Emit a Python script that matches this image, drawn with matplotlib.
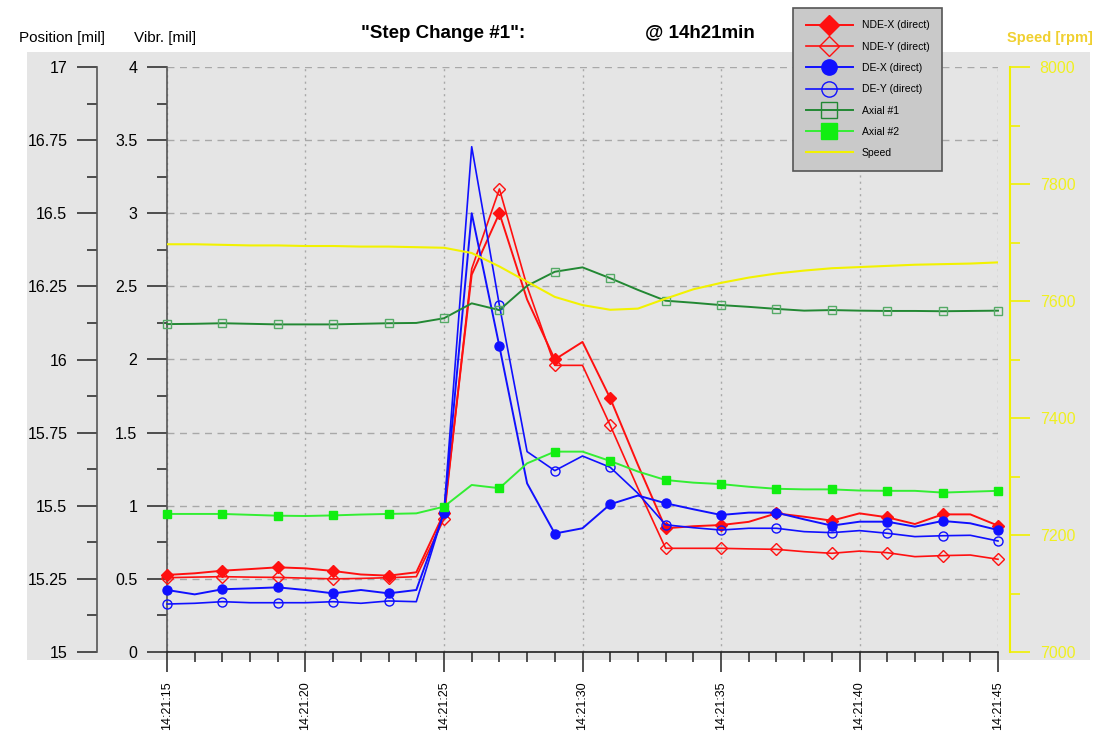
import numpy as np
import matplotlib; matplotlib.use('Agg')
import matplotlib.pyplot as plt
from matplotlib.lines import Line2D
from matplotlib.patches import Rectangle
from matplotlib.ticker import MultipleLocator, FuncFormatter

plt.rcParams.update({
    'font.family': 'sans-serif', 'font.sans-serif': ['Liberation Sans', 'DejaVu Sans'],
    'font.size': 11.5, 'xtick.direction': 'out', 'ytick.direction': 'out',
})

# --- data: one sample per second, 14:21:15 .. 14:21:45 ---
seconds = list(range(15, 46))
time_ticks = [15, 20, 25, 30, 35, 40, 45]
time_labels = ['14:21:15', '14:21:20', '14:21:25', '14:21:30', '14:21:35', '14:21:40', '14:21:45']

# vibration [mil]
nde_x = [0.527, 0.538, 0.556, 0.567, 0.579, 0.572, 0.554, 0.530, 0.522, 0.545,
         0.95, 2.58, 3.00, 2.41, 2.00, 2.12, 1.735, 1.28, 0.846, 0.86,
         0.868, 0.89, 0.948, 0.925, 0.898, 0.948, 0.921, 0.875, 0.941, 0.941, 0.864]
nde_y = [0.508, 0.512, 0.515, 0.512, 0.510, 0.505, 0.500, 0.503, 0.508, 0.515,
         0.91, 2.62, 3.166, 2.50, 1.96, 1.96, 1.55, 1.12, 0.709, 0.709,
         0.709, 0.705, 0.702, 0.686, 0.675, 0.690, 0.679, 0.652, 0.659, 0.663, 0.634]
de_x = [0.424, 0.394, 0.429, 0.435, 0.442, 0.424, 0.401, 0.424, 0.401, 0.424,
        0.95, 3.00, 2.09, 1.153, 0.81, 0.846, 1.01, 1.07, 1.017, 0.976,
        0.937, 0.953, 0.953, 0.907, 0.864, 0.891, 0.891, 0.857, 0.896, 0.88, 0.834]
de_y = [0.328, 0.333, 0.344, 0.337, 0.337, 0.337, 0.344, 0.333, 0.349, 0.344,
        0.96, 3.455, 2.37, 1.37, 1.24, 1.34, 1.263, 1.085, 0.87, 0.85,
        0.834, 0.846, 0.846, 0.823, 0.816, 0.83, 0.812, 0.789, 0.795, 0.798, 0.759]

# position [mil]
axial_1 = [16.121, 16.122, 16.124, 16.122, 16.120, 16.120, 16.120, 16.122, 16.124, 16.125,
           16.141, 16.192, 16.169, 16.252, 16.300, 16.315, 16.278, 16.238, 16.201, 16.194,
           16.186, 16.180, 16.173, 16.167, 16.169, 16.167, 16.166, 16.166, 16.165, 16.166, 16.167]
axial_2 = [15.472, 15.472, 15.472, 15.469, 15.466, 15.465, 15.467, 15.470, 15.472, 15.474,
           15.497, 15.571, 15.560, 15.645, 15.685, 15.685, 15.653, 15.617, 15.588, 15.579,
           15.574, 15.565, 15.558, 15.556, 15.556, 15.552, 15.551, 15.551, 15.545, 15.548, 15.551]

# speed [rpm]
speed = [7697, 7697, 7696, 7695, 7695, 7694, 7694, 7693, 7693, 7692,
         7691, 7682, 7659, 7633, 7607, 7593, 7585, 7587, 7604, 7620,
         7631, 7640, 7647, 7652, 7656, 7658, 7660, 7662, 7663, 7664, 7666]

W, H = 1101, 737
fig = plt.figure(figsize=(W / 100, H / 100), dpi=100)
fig.patches.append(Rectangle((27 / W, 1 - 660 / H), (1090 - 27) / W, (660 - 52) / H,
                             transform=fig.transFigure, facecolor='#e5e5e5',
                             edgecolor='none', zorder=-10))

ax = fig.add_axes([167 / W, 1 - 652 / H, (998 - 167) / W, (652 - 67) / H])
ax.set_facecolor('none')
ax.set_xlim(15, 45); ax.set_ylim(0, 4)
ax.spines['top'].set_visible(False); ax.spines['right'].set_visible(False)
ax.spines['left'].set_color('#555555'); ax.spines['bottom'].set_color('#222222')
ax.spines['left'].set_linewidth(1.2); ax.spines['bottom'].set_linewidth(1.2)

ax.set_xticks(time_ticks)
ax.set_xticklabels(time_labels, rotation=90, fontsize=9)
ax.xaxis.set_minor_locator(MultipleLocator(1))
ax.yaxis.set_major_locator(MultipleLocator(0.5))
ax.yaxis.set_minor_locator(MultipleLocator(0.25))
ax.yaxis.set_major_formatter(FuncFormatter(lambda v, p: '%g' % v))
ax.tick_params(axis='both', which='major', length=14.4, width=1.2, color='#333333')
ax.tick_params(axis='both', which='minor', length=7.2, width=1.2, color='#333333')
ax.tick_params(axis='y', which='major', pad=7, labelsize=11.5)
ax.tick_params(axis='x', which='major', pad=7)
ax.grid(axis='y', which='major', color='#a8a8a8', ls=(0, (5, 4)), lw=1.0)
ax.grid(axis='x', which='major', color='#a8a8a8', ls=(0, (1.5, 3)), lw=1.0)

# position axis (outer left)
ax_pos = ax.twinx()
ax_pos.set_ylim(15, 17)
for s in ['top', 'bottom', 'right']:
    ax_pos.spines[s].set_visible(False)
ax_pos.spines['left'].set_visible(True)
ax_pos.spines['left'].set_position(('outward', 50.4))
ax_pos.spines['left'].set_color('#555555'); ax_pos.spines['left'].set_linewidth(1.2)
ax_pos.yaxis.set_ticks_position('left')
ax_pos.yaxis.set_major_locator(MultipleLocator(0.25))
ax_pos.yaxis.set_minor_locator(MultipleLocator(0.125))
ax_pos.yaxis.set_major_formatter(FuncFormatter(lambda v, p: '%g' % v))
ax_pos.tick_params(axis='y', which='major', length=14.4, width=1.2, color='#333333', pad=7, labelsize=11.5)
ax_pos.tick_params(axis='y', which='minor', length=7.2, width=1.2, color='#333333')

# speed axis (right)
ax_spd = ax.twinx()
ax_spd.set_ylim(7000, 8000)
for s in ['top', 'bottom', 'left']:
    ax_spd.spines[s].set_visible(False)
ax_spd.spines['right'].set_position(('outward', 8.6))
ax_spd.spines['right'].set_color('#f0f000'); ax_spd.spines['right'].set_linewidth(1.5)
ax_spd.yaxis.set_major_locator(MultipleLocator(200))
ax_spd.yaxis.set_minor_locator(MultipleLocator(100))
ax_spd.tick_params(axis='y', which='major', length=14.4, width=1.2, color='#f0f000',
                   labelcolor='#f0f020', pad=7, labelsize=11.5)
ax_spd.tick_params(axis='y', which='minor', length=7.2, width=1.2, color='#f0f000')

red, blue, dgreen, lgreen, yellow = '#ff1010', '#1010ff', '#228833', '#33ee33', '#f2f200'
ax.plot(seconds, nde_x, color=red, lw=1.4, marker='D', ms=6.5, mfc=red, mec=red, markevery=2, zorder=4, clip_on=False)
ax.plot(seconds, nde_y, color=red, lw=1.2, marker='D', ms=6.5, mfc='none', mec=red, mew=1.0, markevery=2, zorder=4, clip_on=False)
ax.plot(seconds, de_x, color=blue, lw=1.4, marker='o', ms=6.5, mfc=blue, mec=blue, markevery=2, zorder=4, clip_on=False)
ax.plot(seconds, de_y, color=blue, lw=1.2, marker='o', ms=6.5, mfc='none', mec=blue, mew=1.0, markevery=2, zorder=4, clip_on=False)
ax_pos.plot(seconds, axial_1, color=dgreen, lw=1.4, marker='s', ms=6, mfc='none', mec='#55aa66', mew=1.0, markevery=2, clip_on=False)
ax_pos.plot(seconds, axial_2, color=lgreen, lw=1.4, marker='s', ms=6, mfc='#11ee11', mec='#11ee11', markevery=2, clip_on=False)
ax_spd.plot(seconds, speed, color=yellow, lw=1.5)

# header texts
fig.text(62 / W, 1 - 38 / H, 'Position [mil]', ha='center', va='center', fontsize=11)
fig.text(165 / W, 1 - 38 / H, 'Vibr. [mil]', ha='center', va='center', fontsize=11)
fig.text(443 / W, 1 - 33 / H, '"Step Change #1":', ha='center', va='center', fontsize=13.5, fontweight='bold')
fig.text(700 / W, 1 - 33 / H, '@ 14h21min', ha='center', va='center', fontsize=13.5, fontweight='bold')
fig.text(1050 / W, 1 - 38 / H, 'Speed [rpm]', ha='center', va='center', fontsize=10.5,
         fontweight='bold', color='#f0d030')

handles = [
    Line2D([], [], color=red, lw=1.4, marker='D', ms=10, mfc=red, mec=red),
    Line2D([], [], color=red, lw=1.2, marker='D', ms=10, mfc='none', mec=red, mew=1.0),
    Line2D([], [], color=blue, lw=1.4, marker='o', ms=11, mfc=blue, mec=blue),
    Line2D([], [], color=blue, lw=1.2, marker='o', ms=11, mfc='none', mec=blue, mew=1.0),
    Line2D([], [], color=dgreen, lw=1.4, marker='s', ms=11, mfc='none', mec=dgreen, mew=1.0),
    Line2D([], [], color=lgreen, lw=1.4, marker='s', ms=11, mfc='#11ee11', mec='#11ee11'),
    Line2D([], [], color=yellow, lw=1.5),
]
labels = ['NDE-X (direct)', 'NDE-Y (direct)', 'DE-X (direct)', 'DE-Y (direct)',
          'Axial #1', 'Axial #2', 'Speed']
leg = fig.legend(handles, labels, loc='upper left', bbox_to_anchor=(793 / W, 1 - 8 / H),
                 fontsize=7.5, handlelength=4.6, handletextpad=0.8, borderpad=1.2,
                 labelspacing=1.08, fancybox=False, framealpha=1, borderaxespad=0)
leg.get_frame().set_facecolor('#c9c9c9')
leg.get_frame().set_edgecolor('#555555')
leg.get_frame().set_linewidth(1.2)

fig.savefig('out.png', dpi=100)
